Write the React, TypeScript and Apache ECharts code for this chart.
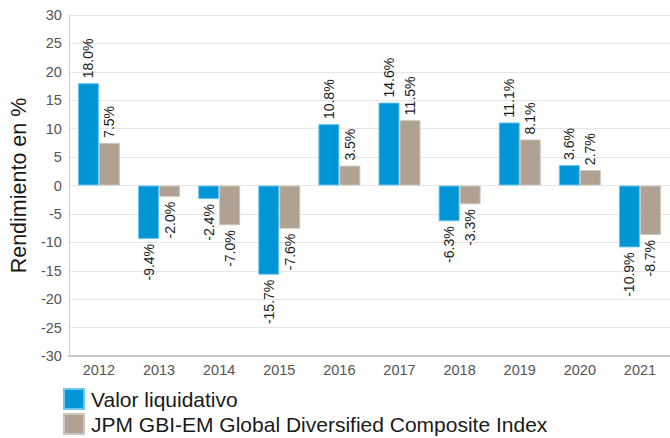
import React, { useEffect, useRef } from "react";
import * as echarts from "echarts";

const years = ["2012", "2013", "2014", "2015", "2016", "2017", "2018", "2019", "2020", "2021"];
const fundValues = [18.0, -9.4, -2.4, -15.7, 10.8, 14.6, -6.3, 11.1, 3.6, -10.9];
const indexValues = [7.5, -2.0, -7.0, -7.6, 3.5, 11.5, -3.3, 8.1, 2.7, -8.7];
const seriesNames = ["Valor liquidativo", "JPM GBI-EM Global Diversified Composite Index"];
const FONT = "Liberation Sans, Arial, sans-serif";

function makeData(vals: number[]) {
  return vals.map((v) => ({
    value: v,
    label: v >= 0
      ? { position: "top", rotate: 90, align: "left", verticalAlign: "middle", distance: 5 }
      : { position: "bottom", rotate: 90, align: "right", verticalAlign: "middle", distance: 5 },
  }));
}

export default function App() {
  const ref = useRef<HTMLDivElement>(null);
  useEffect(() => {
    const chart = echarts.init(ref.current!, null, { renderer: "svg" });
    const labelBase = {
      show: true,
      color: "#1a1a1a",
      fontSize: 14,
      fontFamily: FONT,
      formatter: (p: any) => `${Number(p.value).toFixed(1)}%`,
    };
    const legendBase = {
      orient: "vertical",
      left: 63,
      itemWidth: 20,
      itemHeight: 20,
      icon: "rect",
      padding: 0,
      textStyle: { fontSize: 21, color: "#1a1a1a", fontFamily: FONT, padding: [0, 0, 0, 2] },
    };
    chart.setOption({
      animation: false,
      textStyle: { fontFamily: FONT },
      grid: { left: 65, top: 15, bottom: 82, width: 609, containLabel: false },
      legend: [
        { ...legendBase, top: 388, data: [seriesNames[0]] },
        { ...legendBase, top: 413, data: [seriesNames[1]] },
      ],
      xAxis: {
        type: "category",
        data: years,
        position: "bottom",
        axisLine: { onZero: false, lineStyle: { color: "#c8c8c8", width: 2 } },
        axisTick: { show: false },
        axisLabel: { color: "#555", fontSize: 14.5, fontFamily: FONT, margin: 6 },
      },
      yAxis: {
        type: "value",
        min: -30,
        max: 30,
        interval: 5,
        name: "Rendimiento en %",
        nameLocation: "middle",
        nameGap: 37,
        nameTextStyle: { fontSize: 21.5, color: "#1a1a1a", fontFamily: FONT },
        axisLine: { show: true, lineStyle: { color: "#d0d0d0", width: 1 } },
        axisTick: { show: false },
        axisLabel: { color: "#555", fontSize: 14.5, fontFamily: FONT, margin: 7 },
        splitLine: { lineStyle: { color: "#e6e6e6", width: 1 } },
      },
      series: [
        {
          name: seriesNames[0],
          type: "bar",
          data: makeData(fundValues),
          barWidth: 21,
          barGap: "0%",
          itemStyle: { color: "#0096d6", borderColor: "#6cc6ee", borderWidth: 1 },
          label: labelBase,
        },
        {
          name: seriesNames[1],
          type: "bar",
          data: makeData(indexValues),
          barWidth: 21,
          barGap: "0%",
          itemStyle: { color: "#b0a193", borderColor: "#cfc5bb", borderWidth: 1 },
          label: labelBase,
        },
      ],
    });
    return () => chart.dispose();
  }, []);
  return <div ref={ref} style={{ width: 670, height: 438, position: "absolute", left: 0, top: 0 }} />;
}
